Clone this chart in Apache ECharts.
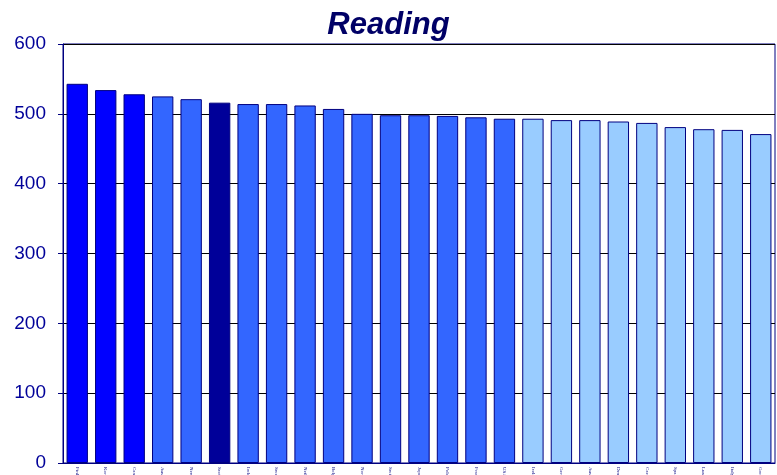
<!DOCTYPE html>
<html>
<head>
<meta charset="utf-8">
<script src="https://cdn.jsdelivr.net/npm/echarts@6/dist/echarts.min.js"></script>
<style>
html,body{margin:0;padding:0;background:#fff;}
#chart{width:777px;height:475px;}
</style>
</head>
<body>
<div id="chart"></div>
<script>
var categories = ['Finland','Korea','Canada','Australia','New Zealand','Scotland','Ireland','Sweden','Netherlands','Belgium','Norway','Switzerland','Japan','Poland','France','USA','Iceland','Germany','Austria','Denmark','Czech Republic','Spain','Luxembourg','Italy','Greece'];
var readingScores = [543,534,528,525,521,516,514,514,512,507,500,498,498,497,495,493,493,491,491,489,487,481,478,477,471];
// group: 'above', 'similar', 'self', 'below'
var groups = ['above','above','above','similar','similar','self','similar','similar','similar','similar','similar','similar','similar','similar','similar','similar','below','below','below','below','below','below','below','below','below'];
var yTicks = [0,100,200,300,400,500,600];

var groupColors = {above:'#0000FF', similar:'#3366FF', self:'#000099', below:'#99CCFF'};

var chart = echarts.init(document.getElementById('chart'), null, {renderer:'canvas'});
chart.setOption({
  animation:false,
  backgroundColor:'#ffffff',
  title:{
    text:'Reading', left:'center', top:5,
    textStyle:{fontFamily:'Liberation Sans, Arial, sans-serif', fontSize:31, fontWeight:'bold', fontStyle:'italic', color:'#000066'}
  },
  grid:{left:63, right:2, top:44, bottom:12, show:true, borderColor:'#000080', borderWidth:1, containLabel:false, outerBoundsMode:'none'},
  xAxis:{
    type:'category', data:categories,
    axisLine:{lineStyle:{color:'#000080', width:1}},
    axisTick:{show:false},
    axisLabel:{rotate:-90, interval:0, fontSize:5, fontFamily:'Liberation Serif, serif', color:'#000080', margin:4, align:'left', verticalAlign:'middle'}
  },
  yAxis:{
    type:'value', min:0, max:600, interval:100,
    axisLine:{show:true, lineStyle:{color:'#000080', width:1}},
    axisTick:{show:true, length:5, inside:false, lineStyle:{color:'#000080'}},
    axisLabel:{fontSize:19, fontFamily:'Liberation Sans, Arial, sans-serif', color:'#000099', margin:17,
      formatter:function(v){return yTicks.indexOf(v)>=0 ? String(v) : '';}},
    splitLine:{show:true, lineStyle:{color:'#000000', width:1}}
  },
  series:[{
    type:'bar',
    data:readingScores.map(function(v,i){
      return {value:v, itemStyle:{color:groupColors[groups[i]]}};
    }),
    barCategoryGap:'25%',
    itemStyle:{borderColor:'#000080', borderWidth:1}
  }]
});
</script>
</body>
</html>
